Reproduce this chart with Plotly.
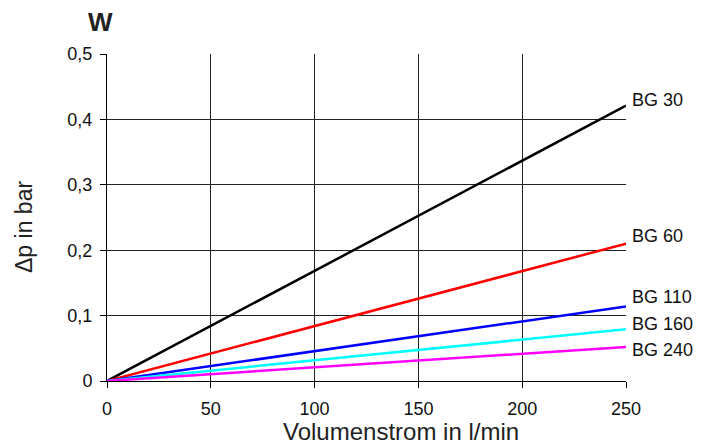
import plotly.graph_objects as go

flow = [0, 250]
series_names = ["BG 30", "BG 60", "BG 110", "BG 160", "BG 240"]
end_values = [0.421, 0.210, 0.114, 0.079, 0.052]
colors = ["#000000", "#ff0000", "#0000ff", "#00ffff", "#ff00ff"]
label_y = [0.43, 0.221, 0.128, 0.087, 0.048]

x_ticks = [0, 50, 100, 150, 200, 250]
y_ticks = [0, 0.1, 0.2, 0.3, 0.4, 0.5]
y_ticktext = ["0", "0,1", "0,2", "0,3", "0,4", "0,5"]

FONT = "Liberation Sans, Arial, Helvetica, sans-serif"
PL, PR, PT, PB = 107, 626, 54, 381
PW, PH = PR - PL, PB - PT

fig = go.Figure()
for name, v, c in zip(series_names, end_values, colors):
    fig.add_trace(go.Scatter(x=flow, y=[0, v], mode="lines", name=name,
                             line=dict(color=c, width=2.5), showlegend=False))

for name, ly in zip(series_names, label_y):
    fig.add_annotation(x=250, y=ly, xref="x", yref="y", text=name, showarrow=False,
                       xanchor="left", yanchor="middle", xshift=4,
                       font=dict(family=FONT, size=18, color="#111"))

fig.add_annotation(x=(100 - PL) / PW, y=1 + (PT - 22) / PH, xref="paper", yref="paper",
                   text="<b>W</b>", showarrow=False, xanchor="center", yanchor="middle",
                   font=dict(family=FONT, size=26, color="#222"))

fig.add_annotation(x=(401 - PL) / PW, y=-(447 - PB) / PH, xref="paper", yref="paper",
                   text="Volumenstrom in l/min", showarrow=False, xanchor="center", yanchor="bottom",
                   font=dict(family=FONT, size=24, color="#222"))
fig.add_annotation(x=-(PL - 24) / PW, y=(PB - 227) / PH, xref="paper", yref="paper",
                   text="Δp in bar", showarrow=False, textangle=-90, xanchor="center", yanchor="middle",
                   font=dict(family=FONT, size=23, color="#222"))

fig.update_layout(
    width=713, height=448, autosize=False,
    margin=dict(l=PL, r=713 - PR, t=PT, b=448 - PB),
    paper_bgcolor="white", plot_bgcolor="white",
    font=dict(family=FONT, size=18, color="#111"),
    xaxis=dict(range=[0, 250], tickvals=x_ticks, ticks="outside", ticklen=6, tickcolor="#000",
               showgrid=True, gridcolor="#222", gridwidth=1, showline=True, linecolor="#000",
               linewidth=1, zeroline=False, tickfont=dict(size=18), ticklabelstandoff=5,
               fixedrange=True),
    yaxis=dict(range=[0, 0.5], tickvals=y_ticks, ticktext=y_ticktext, ticks="outside", ticklen=6,
               tickcolor="#000", showgrid=True, gridcolor="#222", gridwidth=1, showline=True,
               linecolor="#000", linewidth=1, zeroline=False, tickfont=dict(size=18),
               ticklabelstandoff=4, fixedrange=True),
)

fig.write_html("out.html")
